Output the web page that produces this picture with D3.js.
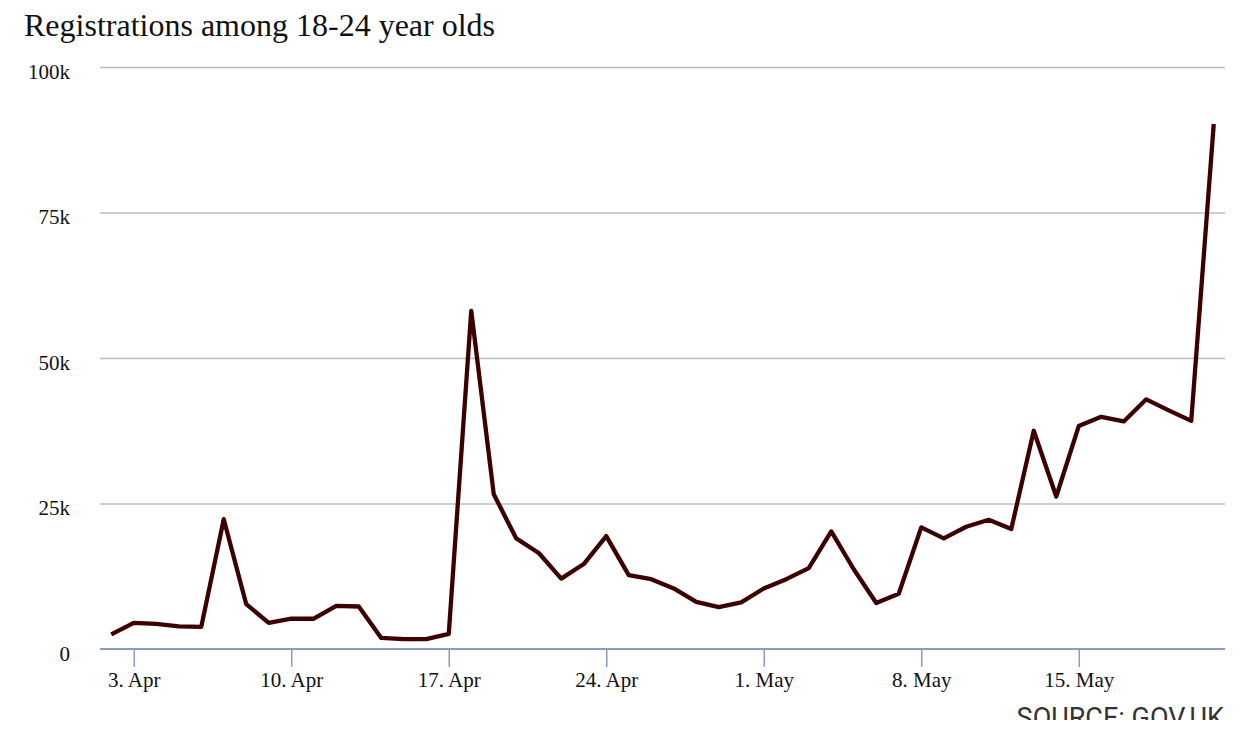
<!DOCTYPE html>
<html>
<head>
<meta charset="utf-8">
<script src="https://cdn.jsdelivr.net/npm/d3@7"></script>
<style>
body { margin: 0; background: #fff; }
svg { display: block; overflow: hidden; }
</style>
</head>
<body>
<div id="chart"></div>
<script>
var title = "Registrations among 18-24 year olds"
var source = "SOURCE: GOV.UK"

// one point per day, 2 Apr to 21 May 2017
var startDate = "2017-04-02"
var registrations = [
    2.5, 4.5, 4.3, 3.9, 3.8, 22.3, 7.7, 4.5, 5.2, 5.2,
    7.4, 7.3, 1.9, 1.7, 1.7, 2.6, 58.1, 26.6, 19.0, 16.5,
    12.1, 14.6, 19.4, 12.7, 12.0, 10.4, 8.1, 7.2, 8.0, 10.4,
    12.0, 13.9, 20.2, 13.7, 7.9, 9.5, 20.9, 19.0, 21.0, 22.2,
    20.6, 37.5, 26.2, 38.3, 39.9, 39.1, 42.9, 41.0, 39.2, 90.2
]
var yTicks = [0, 25, 50, 75, 100]
var xTicks = ["2017-04-03", "2017-04-10", "2017-04-17", "2017-04-24", "2017-05-01", "2017-05-08", "2017-05-15"]

var parse = d3.utcParse("%Y-%m-%d")
var start = parse(startDate)
var data = registrations.map((v, i) => ({date: d3.utcDay.offset(start, i), value: v}))

var W = 1258, H = 720
var margin = {top: 67, right: 33, bottom: 71, left: 100}
var width = W - margin.left - margin.right,
    height = H - margin.top - margin.bottom

var svg = d3.select("#chart").append("svg")
    .attr("width", W)
    .attr("height", H)

svg.append("text")
    .attr("x", 24)
    .attr("y", 36)
    .text(title)
    .style("font-family", "Liberation Serif")
    .style("font-size", "32px")
    .style("fill", "#111")

var g = svg.append("g")
    .attr("transform", "translate(" + margin.left + "," + margin.top + ")")

var x = d3.scaleUtc()
    .domain([d3.utcHour.offset(data[0].date, -12), d3.utcHour.offset(data[data.length - 1].date, 12)])
    .range([0, width])

var y = d3.scaleLinear()
    .domain([0, 100])
    .range([height, 0])

// gridlines + y labels
var yAxis = g.append("g")
    .call(d3.axisLeft(y)
        .tickValues(yTicks)
        .tickSize(-width)
        .tickFormat(d => d == 0 ? "0" : d + "k"))
yAxis.select(".domain").remove()
yAxis.selectAll(".tick line")
    .attr("stroke", "#bcbcbc")
    .attr("stroke-width", 1.5)
    .filter(d => d == 0).remove()
yAxis.selectAll(".tick text")
    .attr("x", -30)
    .attr("dy", "0.68em")
    .attr("y", -3)
    .style("font-family", "Liberation Serif")
    .style("font-size", "21px")
    .style("fill", "#111")

// x axis
var xAxis = g.append("g")
    .attr("transform", "translate(0," + height + ")")
    .call(d3.axisBottom(x)
        .tickValues(xTicks.map(parse))
        .tickSize(18)
        .tickPadding(5)
        .tickFormat(d3.utcFormat("%-d. %b")))
xAxis.select(".domain")
    .attr("d", "M0,0H" + width)
    .attr("stroke", "#8a9cc6")
    .attr("stroke-width", 2)
xAxis.selectAll(".tick line")
    .attr("stroke", "#8a9cc6")
    .attr("stroke-width", 1.5)
xAxis.selectAll(".tick text")
    .style("font-family", "Liberation Serif")
    .style("font-size", "21px")
    .style("fill", "#111")

var line = d3.line()
    .x(d => x(d.date))
    .y(d => y(d.value))

g.append("path")
    .datum(data)
    .attr("d", line)
    .attr("fill", "none")
    .attr("stroke", "#3d0000")
    .attr("stroke-width", 4.3)
    .attr("stroke-linejoin", "round")

// source line sits at the bottom edge, partly cut off like the original
svg.append("text")
    .attr("x", 1224)
    .attr("y", 727)
    .attr("text-anchor", "end")
    .text(source)
    .style("font-family", "Roboto")
    .style("font-size", "27px")
    .style("fill", "#333")
</script>
</body>
</html>
